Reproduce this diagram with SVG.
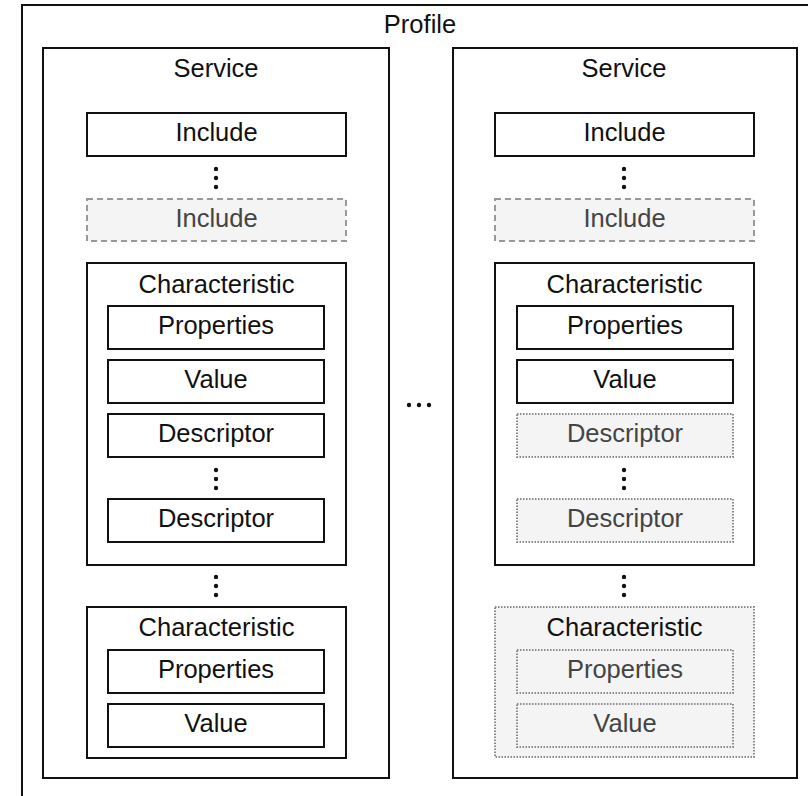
<svg xmlns="http://www.w3.org/2000/svg" width="808" height="796" viewBox="0 0 808 796">
<style>
text{font-family:"Liberation Sans",Arial,sans-serif;font-size:25.5px;text-anchor:middle;fill:#111}
.solid{fill:#fff;stroke:#111;stroke-width:2}
.dashed{fill:#f4f4f4;stroke:#999;stroke-width:2;stroke-dasharray:6 4}
.dotted{fill:#f4f4f4;stroke:#8a8a8a;stroke-width:2;stroke-dasharray:1.5 1.5}
.gray{fill:#444}
.dot{fill:#111}
</style>
<rect width="808" height="796" fill="#fff"/>
<g id="profile">
<rect x="22" y="5" width="800" height="800" class="solid" fill="none"/>
<text x="420" y="33">Profile</text>
</g>
<g id="service-left">
<rect x="43" y="48" width="346" height="730" class="solid"/>
<text x="216" y="77">Service</text>
</g>
<g id="include-left-1">
<rect x="87" y="113" width="259" height="43" class="solid"/>
<text x="216.5" y="141">Include</text>
</g>
<g id="include-left-2">
<rect x="87" y="199" width="259" height="42" class="dashed"/>
<text x="216.5" y="227" class="gray">Include</text>
</g>
<g id="char-left-1">
<rect x="87" y="263" width="259" height="302" class="solid"/>
<text x="216.5" y="293">Characteristic</text>
</g>
<g id="props-left-1">
<rect x="108" y="306" width="216" height="43" class="solid"/>
<text x="216" y="334">Properties</text>
</g>
<g id="value-left-1">
<rect x="108" y="360" width="216" height="43" class="solid"/>
<text x="216" y="388">Value</text>
</g>
<g id="desc-left-1">
<rect x="108" y="414" width="216" height="43" class="solid"/>
<text x="216" y="442">Descriptor</text>
</g>
<g id="desc-left-2">
<rect x="108" y="499" width="216" height="43" class="solid"/>
<text x="216" y="527">Descriptor</text>
</g>
<g id="char-left-2">
<rect x="87" y="607" width="259" height="151" class="solid"/>
<text x="216.5" y="636">Characteristic</text>
</g>
<g id="props-left-2">
<rect x="108" y="650" width="216" height="43" class="solid"/>
<text x="216" y="678">Properties</text>
</g>
<g id="value-left-2">
<rect x="108" y="704" width="216" height="43" class="solid"/>
<text x="216" y="732">Value</text>
</g>
<g id="service-right">
<rect x="453" y="48" width="344" height="730" class="solid"/>
<text x="624" y="77">Service</text>
</g>
<g id="include-right-1">
<rect x="495" y="113" width="259" height="43" class="solid"/>
<text x="624.5" y="141">Include</text>
</g>
<g id="include-right-2">
<rect x="495" y="199" width="259" height="42" class="dashed"/>
<text x="624.5" y="227" class="gray">Include</text>
</g>
<g id="char-right-1">
<rect x="495" y="263" width="259" height="302" class="solid"/>
<text x="624.5" y="293">Characteristic</text>
</g>
<g id="props-right-1">
<rect x="517" y="306" width="216" height="43" class="solid"/>
<text x="625" y="334">Properties</text>
</g>
<g id="value-right-1">
<rect x="517" y="360" width="216" height="43" class="solid"/>
<text x="625" y="388">Value</text>
</g>
<g id="desc-right-1">
<rect x="517" y="414" width="216" height="43" class="dotted"/>
<text x="625" y="442" class="gray">Descriptor</text>
</g>
<g id="desc-right-2">
<rect x="517" y="499" width="216" height="43" class="dotted"/>
<text x="625" y="527" class="gray">Descriptor</text>
</g>
<g id="char-right-2">
<rect x="495" y="607" width="259" height="150" class="dotted"/>
<text x="624.5" y="636">Characteristic</text>
</g>
<g id="props-right-2">
<rect x="517" y="650" width="216" height="43" class="dotted"/>
<text x="625" y="678" class="gray">Properties</text>
</g>
<g id="value-right-2">
<rect x="517" y="704" width="216" height="43" class="dotted"/>
<text x="625" y="732" class="gray">Value</text>
</g>
<g id="ellipses">
<circle cx="216" cy="169" r="2.2" class="dot"/><circle cx="216" cy="178" r="2.2" class="dot"/><circle cx="216" cy="187" r="2.2" class="dot"/>
<circle cx="216" cy="470" r="2.2" class="dot"/><circle cx="216" cy="479" r="2.2" class="dot"/><circle cx="216" cy="488" r="2.2" class="dot"/>
<circle cx="216" cy="577" r="2.2" class="dot"/><circle cx="216" cy="586" r="2.2" class="dot"/><circle cx="216" cy="595" r="2.2" class="dot"/>
<circle cx="624" cy="169" r="2.2" class="dot"/><circle cx="624" cy="178" r="2.2" class="dot"/><circle cx="624" cy="187" r="2.2" class="dot"/>
<circle cx="624" cy="470" r="2.2" class="dot"/><circle cx="624" cy="479" r="2.2" class="dot"/><circle cx="624" cy="488" r="2.2" class="dot"/>
<circle cx="624" cy="577" r="2.2" class="dot"/><circle cx="624" cy="586" r="2.2" class="dot"/><circle cx="624" cy="595" r="2.2" class="dot"/>
<circle cx="409" cy="405" r="2.2" class="dot"/><circle cx="419" cy="405" r="2.2" class="dot"/><circle cx="429" cy="405" r="2.2" class="dot"/>
</g>
</svg>
